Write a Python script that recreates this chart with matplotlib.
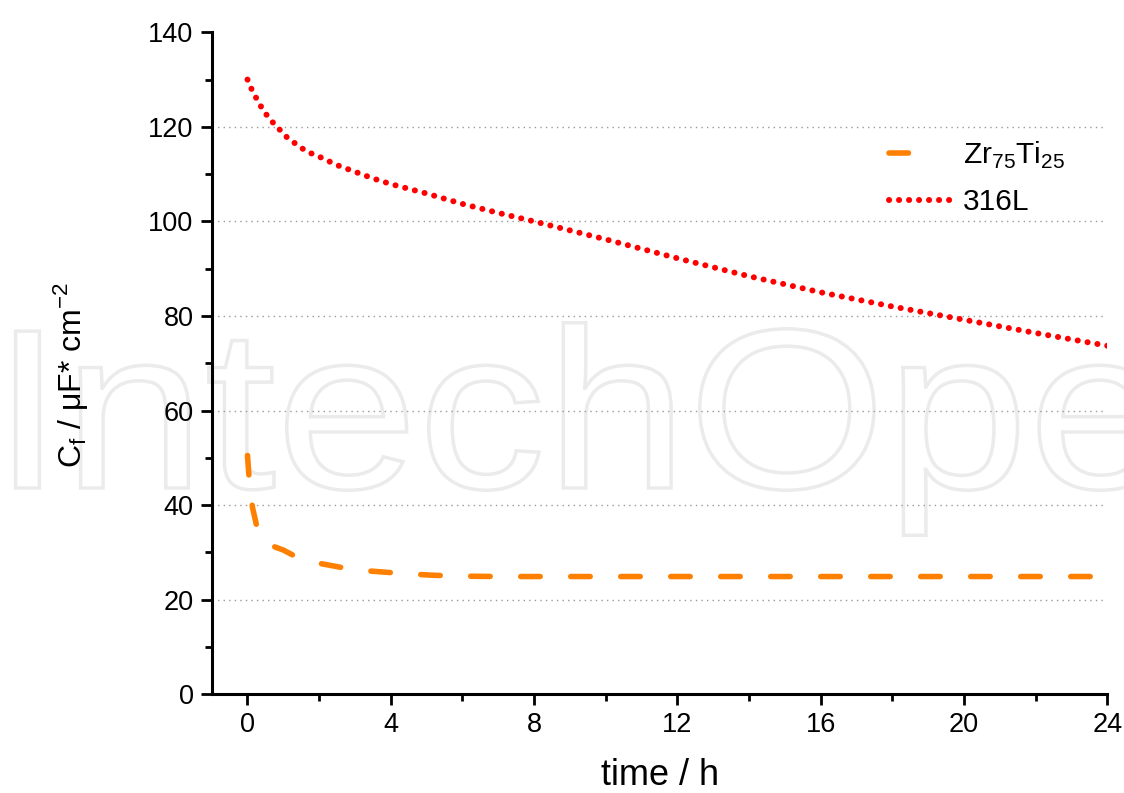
import matplotlib
matplotlib.use('Agg')
import matplotlib.pyplot as plt
from matplotlib.ticker import MultipleLocator
from matplotlib.textpath import TextPath
from matplotlib.patches import PathPatch
from matplotlib.transforms import Affine2D
from matplotlib.font_manager import FontProperties
from matplotlib.lines import Line2D

plt.rcParams['font.family'] = ['Liberation Sans', 'DejaVu Sans']
plt.rcParams['mathtext.fontset'] = 'custom'
plt.rcParams['mathtext.rm'] = 'Liberation Sans'
plt.rcParams['lines.scale_dashes'] = False

# Zr75Ti25 film capacitance vs time
t_zr = [0, 0.05, 0.14, 0.28, 0.5, 0.75, 1, 1.3, 1.6, 2, 2.35, 3, 3.7, 4.4, 5.1, 5.8, 7, 8, 10, 12, 16, 20, 24]
cf_zr = [50.5, 45.2, 39.5, 34.8, 32.3, 31.2, 30.5, 29.3, 28.4, 27.7, 27.2, 26.3, 25.9, 25.5, 25.2, 25.0,
         24.9, 24.9, 24.9, 24.9, 24.9, 24.9, 24.9]

# 316L
t_ss = [0, 0.1, 0.25, 0.4, 0.6, 0.85, 1.1, 1.4, 1.65, 2, 2.5, 3, 3.5, 4, 5, 6, 7, 8, 10, 12, 14, 16, 18, 20, 22, 24]
cf_ss = [130, 128.2, 126, 124, 121.8, 119.8, 117.8, 116.1, 114.8, 113.7, 111.9, 110.5, 109.1, 107.9, 105.9,
         103.7, 101.8, 100, 96.2, 92.2, 88.4, 85, 82, 79.2, 76.4, 73.7]

labels = [r'Zr$_{\mathregular{75}}$Ti$_{\mathregular{25}}$', '316L']
yticks = [0, 20, 40, 60, 80, 100, 120, 140]
xticks = [0, 4, 8, 12, 16, 20, 24]

fig = plt.figure(figsize=(11.24, 7.93), dpi=100)
ax = fig.add_axes([0.1883, 0.1245, 0.797, 0.8348])
ax.set_facecolor('none')

# watermark behind the axes (outlined letters)
tp = TextPath((0, 0), 'IntechOpen', size=228, prop=FontProperties(family='Liberation Sans'))
wm = PathPatch(tp, transform=Affine2D().scale(1.12, 1.0).translate(-8, 305),
               facecolor='white', edgecolor='#ebebeb', lw=2.5)
fig.add_artist(wm)
wm.set_zorder(-1)

for y in yticks[1:-1]:
    ax.axhline(y, color='#999999', lw=1.0, ls=(0, (1, 3)), zorder=1)

ax.plot(t_zr, cf_zr, color='#ff8000', lw=4, dashes=(14, 22), dash_capstyle='round', zorder=3)
ax.plot(t_ss, cf_ss, color='#ff0000', lw=4.3, dashes=(0.1, 7.1), dash_capstyle='round', zorder=3)

ax.set_xlim(-1, 24)
ax.set_ylim(0, 140)
ax.set_xticks(xticks)
ax.set_yticks(yticks)
ax.xaxis.set_minor_locator(MultipleLocator(2))
ax.yaxis.set_minor_locator(MultipleLocator(10))
ax.spines['top'].set_visible(False)
ax.spines['right'].set_visible(False)
for s in ['left', 'bottom']:
    ax.spines[s].set_linewidth(2.2)
ax.tick_params(which='major', length=8, width=2, labelsize=19.5, pad=5)
ax.tick_params(which='minor', length=5, width=2)

ax.set_xlabel('time / h', fontsize=26)
ax.xaxis.set_label_coords(0.5, -0.097)
ax.set_ylabel(r'C$_{\mathregular{f}}$ / μF* cm$^{\mathregular{-2}}$', fontsize=23)
ax.yaxis.set_label_coords(-0.136, 0.482)

handles = [Line2D([], [], color='#ff8000', lw=4, dashes=(14, 40), dash_capstyle='round'),
           Line2D([], [], color='#ff0000', lw=4.3, dashes=(0.1, 7.1), dash_capstyle='round')]
leg = ax.legend(handles, labels, loc='upper left', bbox_to_anchor=(0.74, 0.86), frameon=False,
                fontsize=21.5, handlelength=2.1, handletextpad=0.35, labelspacing=0.58, borderpad=0)

fig.savefig('out.png', dpi=100)
